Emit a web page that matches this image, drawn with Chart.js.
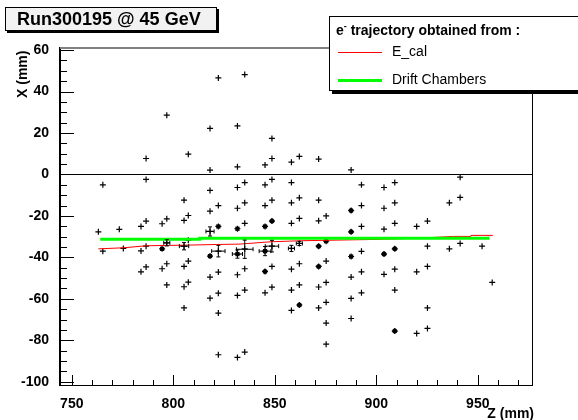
<!DOCTYPE html>
<html>
<head>
<meta charset="utf-8">
<script src="https://cdn.jsdelivr.net/npm/chart.js@4/dist/chart.umd.min.js"></script>
<style>
  body { margin: 0; background: #fff; font-family: "Liberation Sans", Arial, sans-serif; }
  #wrap { position: relative; width: 578px; height: 420px; overflow: hidden; }
  #title {
    position: absolute; left: 5px; top: 7px; height: 22px; width: 199px; padding-left: 11px;
    border: 1px solid #000; background: #f2f2f2; box-shadow: 2px 2px 0 #000;
    font: bold 18px "Liberation Sans", Arial, sans-serif; line-height: 22px;
  }
  #legend {
    position: absolute; left: 329px; top: 16px; width: 260px; height: 73px;
    border: 1px solid #000; background: #fff; box-shadow: 3px 3px 0 #000;
  }
  #legend .head { position: absolute; left: 6px; top: 4px; font: bold 14px "Liberation Sans", Arial, sans-serif; }
  #legend .row { position: absolute; left: 8px; font: 14px "Liberation Sans", Arial, sans-serif; }
  #legend .row span.sw { display: inline-block; width: 44px; vertical-align: middle; margin-right: 10px; }
  #ylab { position: absolute; left: 14px; top: 98px; transform-origin: 0 0; transform: rotate(-90deg);
    font: bold 14px "Liberation Sans", Arial, sans-serif; white-space: nowrap; }
  #xlab { position: absolute; right: 44px; top: 406px; font: bold 14px "Liberation Sans", Arial, sans-serif; line-height: 14px; }
</style>
</head>
<body>
<div id="wrap">
  <canvas id="chart" width="578" height="420"></canvas>
  <div id="title">Run300195 @ 45 GeV</div>
  <div id="legend">
    <div class="head">e<sup style="font-size:9px">-</sup> trajectory obtained from :</div>
    <div class="row" style="top:26px"><span class="sw" style="border-top:1px solid #ff0000"></span>E_cal</div>
    <div class="row" style="top:54px"><span class="sw" style="border-top:3px solid #00ff00"></span>Drift Chambers</div>
  </div>
  <div id="ylab">X (mm)</div>
  <div id="xlab">Z (mm)</div>
</div>
<script>
// wire plane positions (Z, mm) and the hits (X, mm) recorded in each plane
const planeZ = [763.1, 765.3, 773.4, 775.4, 784.1, 786.6, 794.5, 796.8, 805.3, 807.4,
  818.1, 822.2, 831.6, 835.2, 845.2, 848.6, 858.2, 862.1, 871.6, 875.3,
  887.6, 892.7, 903.8, 909.1, 919.9, 925.2, 936.0, 941.3, 952.1, 957.1];
const planeHits = [
  [-27.7], [-5.0, -37.0], [-26.5], [-35.7], [-25.1, -36.9, -47.0],
  [7.7, -2.4, -22.5, -34.6, -44.6], [-23.8, -35.9, -45.5], [28.6, -21.4, -33.0, -43.1, -53.3],
  [-12.4, -22.2, -34.6, -44.4, -54.2, -64.4], [9.8, -19.8, -31.7, -41.8, -52.0],
  [22.2, 2.1, -7.7, -17.7, -27.5, -39.4, -49.5, -59.7],
  [46.6, -15.0, -25.1, -37.0, -47.1, -57.3, -66.9, -87.0],
  [23.4, 3.7, -6.3, -16.3, -26.2, -38.4, -48.4, -58.4, -88.3],
  [48.2, -3.9, -13.7, -23.6, -35.9, -45.5, -55.8, -85.7],
  [4.6, -5.0, -15.0, -25.1, -37.0, -46.8, -57.1],
  [17.4, 7.7, -2.4, -12.4, -22.5, -34.6, -44.4, -54.4],
  [5.9, -3.9, -13.7, -23.6, -35.6, -45.7, -55.8, -65.6],
  [8.7, -11.3, -21.2, -33.3, -43.1, -53.3, -63.0],
  [7.4, -12.4, -22.4, -34.6, -44.4, -54.3, -64.4],
  [-20.0, -32.2, -41.8, -52.1, -61.7, -71.7, -81.9],
  [2.2, -17.4, -27.7, -39.6, -49.5, -59.8, -69.5],
  [-5.0, -15.0, -25.1, -37.1, -47.0, -57.1],
  [-6.3, -16.3, -26.4, -38.4, -48.2],
  [-3.9, -13.7, -23.6, -35.9, -45.7, -55.8, -75.6],
  [-25.1, -47.0, -76.7],
  [-22.5, -34.6, -44.4, -64.4, -74.3],
  [-13.7, -35.9], [-1.3, -11.1, -33.3], [-34.6], [-52.1]
];

// fired cells drawn as filled markers
const dotZ = [848.6, 887.6, 887.6, 871.6, 903.8, 909.1, 845.2, 871.6, 862.1, 909.1];
const dotX = [-22.5, -17.4, -27.7, -34.6, -38.4, -35.9, -46.8, -44.4, -63.0, -75.6];
const boxZ = [831.6, 845.2, 831.6, 845.2, 875.3, 887.6, 822.2, 794.5, 818.1];
const boxX = [-26.2, -25.1, -38.4, -37.0, -32.2, -39.6, -25.1, -35.9, -39.4];

// hits with errors
const errZ = [818.1, 822.2, 805.3, 796.8, 831.6, 835.2, 845.2, 848.6, 858.2, 862.1];
const errX = [-27.5, -37.0, -34.6, -33.0, -38.4, -36.1, -37.0, -34.6, -35.7, -33.3];
const errDZ = [2.0, 3.3, 2.3, 1.5, 2.5, 4.1, 2.9, 3.3, 1.5, 1.5];
const errDX = [2.2, 2.8, 1.8, 1.5, 2.0, 4.4, 2.2, 2.8, 1.5, 1.0];

// reconstructed trajectories
const ecalZ = [763.1, 775.3, 786.9, 806.6, 821.4, 832.9, 847.7, 862.5, 897.0, 920.0, 938.0, 946.6, 946.6, 957.4];
const ecalX = [-35.9, -35.4, -34.4, -34.1, -33.8, -33.6, -32.5, -32.0, -31.4, -30.8, -29.9, -29.9, -29.4, -29.4];
const dchZ = [764.0, 813.0, 813.0, 955.7];
const dchX = [-31.3, -31.3, -30.8, -30.8];

const zRange = [744.2, 976.7];
const xRange = [-101.6, 61.5];

const hits = [];
planeZ.forEach((z, i) => planeHits[i].forEach(x => hits.push({ x: z, y: x })));
const pts = (zs, xs) => zs.map((z, i) => ({ x: z, y: xs[i] }));

const rootFrame = {
  id: 'rootFrame',
  beforeDatasetsDraw(chart) {
    const { ctx, chartArea: a, scales: { y } } = chart;
    ctx.save();
    ctx.fillStyle = '#000';
    ctx.fillRect(a.left, Math.round(y.getPixelForValue(0)), a.right - a.left, 1);
    ctx.restore();
  },
  afterDatasetsDraw(chart) {
    const { ctx, scales: { x, y } } = chart;
    ctx.save();
    ctx.strokeStyle = '#000';
    ctx.lineWidth = 1;
    ctx.beginPath();
    errZ.forEach((z, i) => {
      const px = x.getPixelForValue(z), py = y.getPixelForValue(errX[i]);
      const l = x.getPixelForValue(z - errDZ[i]), r = x.getPixelForValue(z + errDZ[i]);
      const t = y.getPixelForValue(errX[i] + errDX[i]), b = y.getPixelForValue(errX[i] - errDX[i]);
      ctx.moveTo(l, py); ctx.lineTo(r, py);
      ctx.moveTo(px, t); ctx.lineTo(px, b);
      ctx.moveTo(l, py - 2); ctx.lineTo(l, py + 2);
      ctx.moveTo(r, py - 2); ctx.lineTo(r, py + 2);
      ctx.moveTo(px - 2, t); ctx.lineTo(px + 2, t);
      ctx.moveTo(px - 2, b); ctx.lineTo(px + 2, b);
    });
    ctx.stroke();
    ctx.restore();
  },
  afterDraw(chart) {
    const { ctx, chartArea: a, scales: { x, y } } = chart;
    const L = Math.round(a.left), B = Math.round(a.bottom);
    const R = Math.round(a.right), T = Math.round(a.top);
    ctx.save();
    ctx.fillStyle = '#000';
    // ticks pointing inside the frame
    for (let v = 750; v <= zRange[1]; v += 10) {
      const px = Math.round(x.getPixelForValue(v));
      const len = v % 50 === 0 ? 10 : 5;
      ctx.fillRect(px, B - len, 1, len);
    }
    for (let v = -100; v <= 60; v += 5) {
      const py = Math.round(y.getPixelForValue(v));
      ctx.fillRect(L, py, Math.abs(v) % 20 === 0 ? 14 : 7, 1);
    }
    // axes and frame
    ctx.fillRect(L - 1, T, 2, B - T + 1);
    ctx.fillRect(L - 1, B, R - L + 2, 1);
    ctx.fillRect(R, T, 1, B - T + 1);
    ctx.fillStyle = '#808080';
    ctx.fillRect(L, T, R - L + 1, 2);
    ctx.restore();
  }
};

const tickFont = { family: '"Liberation Sans", Arial, sans-serif', size: 14, weight: 'bold' };

new Chart(document.getElementById('chart'), {
  type: 'scatter',
  data: {
    datasets: [
      { label: 'Drift Chambers', type: 'line', data: pts(dchZ, dchX), borderColor: '#00ff00', borderWidth: 3,
        pointRadius: 0, fill: false, order: 0 },
      { label: 'E_cal', type: 'line', data: pts(ecalZ, ecalX), borderColor: '#ff0000', borderWidth: 1,
        pointRadius: 0, fill: false, order: 1 },
      { label: 'cells', data: pts(dotZ, dotX), pointStyle: 'circle', pointRadius: 2.5,
        backgroundColor: '#000', borderColor: '#000', borderWidth: 0, order: 2 },
      { label: 'boxes', data: pts(boxZ, boxX), pointStyle: 'rect', pointRadius: 3,
        backgroundColor: '#000', borderColor: '#000', borderWidth: 0, order: 2 },
      { label: 'hits', data: hits, pointStyle: 'cross', pointRadius: 3,
        borderColor: '#000', borderWidth: 1.2, order: 3 }
    ]
  },
  options: {
    responsive: false,
    animation: false,
    events: [],
    layout: { padding: { left: 0, right: 46, top: 47, bottom: 0 } },
    plugins: { legend: { display: false }, tooltip: { enabled: false } },
    scales: {
      x: {
        type: 'linear', min: zRange[0], max: zRange[1],
        grid: { display: false },
        border: { display: false },
        ticks: { stepSize: 50, includeBounds: false, color: '#000', font: tickFont, padding: 3, maxRotation: 0 },
        afterFit: s => { s.height = 35; }
      },
      y: {
        type: 'linear', min: xRange[0], max: xRange[1],
        grid: { display: false },
        border: { display: false },
        ticks: { stepSize: 20, includeBounds: false, color: '#000', font: tickFont, padding: 3 },
        afterFit: s => { s.width = 60; }
      }
    }
  },
  plugins: [rootFrame]
});
</script>
</body>
</html>
